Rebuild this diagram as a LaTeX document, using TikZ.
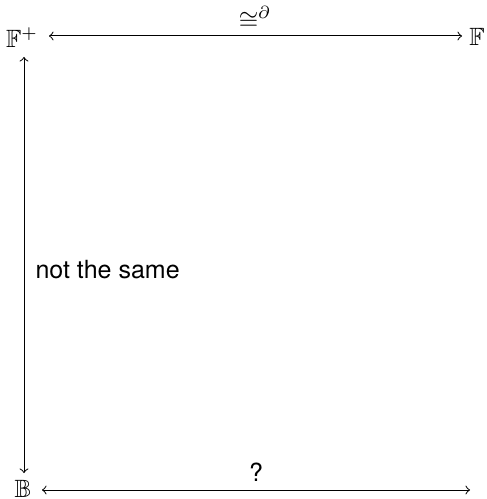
\documentclass[tikz,border=0pt]{standalone}
\usepackage{amssymb}
\usepackage{fontspec}
\newfontfamily\labelfont{TeX Gyre Heros}
\begin{document}
\begin{tikzpicture}[x=0.4pt,y=-0.4pt,
  obj/.style={inner sep=0pt,font=\fontsize{10}{12}\selectfont},
  lab/.style={inner sep=0pt,font=\labelfont\fontsize{10}{12}\selectfont},
  arr/.style={<->,line width=0.4pt}]
\useasboundingbox (0,0) rectangle (486,499);
\node[obj] (Fp) at (22,38) {$\mathbb{F}^{+}$};
\node[obj] (F) at (477,37) {$\mathbb{F}$};
\node[obj] (B) at (23,489) {$\mathbb{B}$};
\coordinate (E) at (470,490);
\draw[arr] (49,36) -- (462,36);
\draw[arr] (24,57) -- (24,473);
\draw[arr] (42,490) -- (E);
\node[obj] (l1) at (255,18) {$\cong^{\partial}$};
\node[lab] (l2) at (256,472) {?};
\node[lab,anchor=west] (l3) at (35,270) {not the same};
\end{tikzpicture}
\end{document}
